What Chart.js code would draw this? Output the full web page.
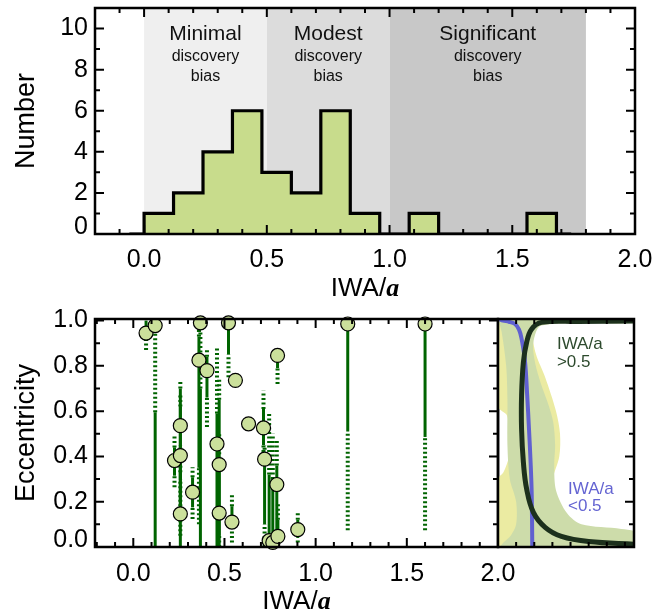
<!DOCTYPE html>
<html>
<head>
<meta charset="utf-8">
<title>Eccentricity vs IWA/a</title>
<script src="https://cdn.jsdelivr.net/npm/chart.js@4.4.1/dist/chart.umd.min.js"></script>
<style>
  html, body { margin: 0; padding: 0; background: #fff; }
  #wrap { position: relative; width: 667px; height: 612px; }
  #wrap canvas { position: absolute; left: 0; top: 0; }
</style>
</head>
<body>
<div id="wrap">
  <canvas id="histChart" width="667" height="612"></canvas>
  <canvas id="eccChart" width="667" height="612"></canvas>
  <canvas id="sideChart" width="667" height="612"></canvas>
</div>
<script>
/* globals Chart:false */

// ---- top panel: histogram of IWA/a ----
const binLefts = [0.00, 0.12, 0.24, 0.36, 0.48, 0.60, 0.72, 0.84, 0.96, 1.08, 1.20, 1.32, 1.44, 1.56];
const binCounts = [1, 2, 4, 6, 3, 2, 6, 1, 0, 1, 0, 0, 0, 1];
const binWidth = 0.12;

const zoneEdges = [0.0, 0.5, 1.0, 1.8];
const zoneNames = ["Minimal", "Modest", "Significant"];
const zoneSubtitle = ["discovery", "bias"];

const histXTicks = [0.0, 0.5, 1.0, 1.5, 2.0];
const histYTicks = [0, 2, 4, 6, 8, 10];

// ---- bottom panel: eccentricity vs IWA/a ----
const planetIWA = [0.070, 0.120, 0.226, 0.258, 0.258, 0.258, 0.325, 0.368, 0.360, 0.404, 0.459, 0.471, 0.471, 0.522,
    0.560, 0.541, 0.632, 0.714, 0.720, 0.745, 0.765, 0.787, 0.791, 0.793, 0.902, 1.176, 1.600];
const planetEcc = [0.945, 0.978, 0.382, 0.404, 0.536, 0.146, 0.242, 0.990, 0.825, 0.779, 0.455, 0.364, 0.150, 0.990,
    0.736, 0.110, 0.544, 0.526, 0.388, 0.028, 0.020, 0.276, 0.846, 0.047, 0.077, 0.985, 0.985];
// 68% (solid) and 95% (dotted) intervals
const eccLo68 = [0.93, 0.00, 0.315, 0.18, 0.30, 0.00, 0.175, 0.00, 0.35, 0.66, 0.00, 0.05, 0.00, 0.85,
    0.72, 0.08, 0.544, 0.45, 0.10, 0.00, 0.00, 0.07, 0.79, 0.00, 0.04, 0.51, 0.486];
const eccHi68 = [1.00, 0.595, 0.44, 0.62, 0.70, 0.33, 0.308, 0.70, 0.93, 0.84, 0.59, 0.65, 0.35, 1.00,
    0.75, 0.18, 0.544, 0.61, 0.37, 0.32, 0.30, 0.36, 0.86, 0.12, 0.12, 1.00, 1.00];
const eccLo95 = [0.87, 0.00, 0.264, 0.05, 0.12, 0.00, 0.124, 0.00, 0.10, 0.53, 0.00, 0.00, 0.00, 0.75,
    0.72, 0.02, 0.544, 0.40, 0.00, 0.00, 0.00, 0.00, 0.72, 0.00, 0.02, 0.074, 0.074];
const eccHi95 = [1.00, 1.00, 0.492, 0.68, 0.73, 0.45, 0.352, 1.00, 0.97, 0.88, 0.88, 0.74, 0.50, 1.00,
    0.75, 0.24, 0.544, 0.69, 0.45, 0.59, 0.50, 0.47, 0.87, 0.20, 0.155, 1.00, 1.00];

const eccXTicks = [0.0, 0.5, 1.0, 1.5, 2.0];
const eccYTicks = [0.0, 0.2, 0.4, 0.6, 0.8, 1.0];

// ---- side panel: eccentricity distributions ----
// IWA/a < 0.5 (blue curve, yellow band)
const innerCurveDens = [0.005, 0.028, 0.060, 0.094, 0.116, 0.130, 0.149, 0.161, 0.171, 0.180, 0.186, 0.189];
const innerCurveEcc = [1.007, 1.000, 0.995, 0.985, 0.960, 0.920, 0.820, 0.670, 0.520, 0.370, 0.230, 0.000];
const innerBandDens = [0.00, 0.00, 0.05, 0.06, 0.06, 0.03, 0.00, 0.00,
    0.22, 0.26, 0.28, 0.30, 0.338, 0.342, 0.32, 0.26, 0.21, 0.19, 0.22];
const innerBandEcc = [1.007, 0.62, 0.58, 0.50, 0.40, 0.33, 0.30, 0.00,
    0.00, 0.10, 0.20, 0.30, 0.40, 0.50, 0.60, 0.75, 0.85, 0.95, 1.007];
// IWA/a > 0.5 (dark green curve, green band)
const outerCurveDens = [0.76, 0.44, 0.24, 0.186, 0.158, 0.140, 0.130, 0.130, 0.140, 0.158, 0.195, 0.26, 0.35, 0.50, 0.76];
const outerCurveEcc = [0.998, 0.996, 0.992, 0.963, 0.904, 0.816, 0.669, 0.520, 0.374, 0.256, 0.153, 0.087, 0.047, 0.024, 0.012];
const outerBandDens = [0.00, 0.02, 0.045, 0.052, 0.052, 0.065, 0.10, 0.10, 0.07, 0.03, 0.015,
    0.76, 0.76, 0.68, 0.46, 0.38, 0.32, 0.31, 0.315, 0.305, 0.28, 0.24, 0.204, 0.195, 0.24, 0.76, 0.76];
const outerBandEcc = [1.007, 0.95, 0.80, 0.65, 0.45, 0.30, 0.20, 0.10, 0.05, 0.02, 0.00,
    0.00, 0.065, 0.08, 0.10, 0.15, 0.25, 0.36, 0.45, 0.55, 0.624, 0.713, 0.816, 0.904, 0.978, 0.99, 1.007];

const toPoints = (xs, ys) => xs.map((v, i) => ({ x: v, y: ys[i] }));

Chart.defaults.font.family = "'Liberation Sans', Arial, sans-serif";
Chart.defaults.color = "#000";

// lift the bottom-most y label a little, like the original plot
const liftFirst = (fmt) => (v, i) => (i === 0 ? [fmt(v), ""] : fmt(v));
const tickFont = (c) => ({ size: 25, lineHeight: c.index === 0 ? 0.56 : 1.2 });

function fixedSize(prop, value) {
    return (scale) => {
        scale[prop] = value;
        scale.paddingTop = 0;
        scale.paddingBottom = 0;
        scale.paddingLeft = 0;
        scale.paddingRight = 0;
    };
}

function drawXTitle(chart) {
    const { ctx, chartArea: a } = chart;
    const f1 = "26px 'Liberation Sans'";
    const f2 = "bold italic 26px 'Liberation Serif'";
    ctx.font = f1;
    const w1 = ctx.measureText("IWA/").width;
    ctx.font = f2;
    const w2 = ctx.measureText("a").width;
    const x0 = (a.left + a.right) / 2 - (w1 + w2) / 2;
    const base = a.bottom + 62;
    ctx.fillStyle = "#000";
    ctx.textAlign = "left";
    ctx.textBaseline = "alphabetic";
    ctx.font = f1;
    ctx.fillText("IWA/", x0, base);
    ctx.font = f2;
    ctx.fillText("a", x0 + w1, base);
}

// box frame with inward major/minor ticks
const framePlugin = {
    id: "frame",
    afterDatasetsDraw(chart, args, opts) {
        const { ctx, chartArea: a } = chart;
        ctx.save();
        ctx.strokeStyle = "#000";
        ctx.lineWidth = 2;
        (opts.ticks || []).forEach((t) => {
            const s = chart.scales[t.axis];
            const first = Math.ceil(s.min / t.step - 1e-6);
            const last = Math.floor(s.max / t.step + 1e-6);
            ctx.beginPath();
            for (let i = first; i <= last; i++) {
                const v = i * t.step;
                const major = t.major && Math.abs(v / t.major - Math.round(v / t.major)) < 1e-6;
                const len = major ? 9 : 5;
                const p = s.getPixelForValue(v);
                t.sides.forEach((side) => {
                    if (side === "bottom") { ctx.moveTo(p, a.bottom); ctx.lineTo(p, a.bottom - len); }
                    if (side === "top") { ctx.moveTo(p, a.top); ctx.lineTo(p, a.top + len); }
                    if (side === "left") { ctx.moveTo(a.left, p); ctx.lineTo(a.left + len, p); }
                    if (side === "right") { ctx.moveTo(a.right, p); ctx.lineTo(a.right - len, p); }
                });
            }
            ctx.stroke();
        });
        ctx.lineWidth = 2.5;
        ctx.strokeRect(a.left, a.top, a.right - a.left, a.bottom - a.top);
        if (opts.xTitle) drawXTitle(chart);
        ctx.restore();
    },
};

// shaded discovery-bias zones behind the histogram
const zonePlugin = {
    id: "zones",
    beforeDatasetsDraw(chart) {
        const { ctx, chartArea: a, scales: { x } } = chart;
        const shades = ["#efefef", "#dcdcdc", "#c8c8c8"];
        ctx.save();
        zoneNames.forEach((name, i) => {
            const x0 = x.getPixelForValue(zoneEdges[i]);
            const x1 = x.getPixelForValue(zoneEdges[i + 1]);
            ctx.fillStyle = shades[i];
            ctx.fillRect(x0, a.top, x1 - x0, a.bottom - a.top);
            const cx = (x0 + x1) / 2;
            ctx.fillStyle = "#111";
            ctx.textAlign = "center";
            ctx.textBaseline = "alphabetic";
            ctx.font = "21px 'Liberation Sans'";
            ctx.fillText(name, cx, a.top + 32);
            ctx.font = "16px 'Liberation Sans'";
            ctx.fillText(zoneSubtitle[0], cx, a.top + 53);
            ctx.fillText(zoneSubtitle[1], cx, a.top + 73);
        });
        ctx.restore();
    },
};

// solid 68% and dotted 95% eccentricity intervals
const errorBarPlugin = {
    id: "errorBars",
    beforeDatasetsDraw(chart) {
        const { ctx, scales: { x, y } } = chart;
        const seg = (px, lo, hi) => {
            if (hi <= lo) return;
            ctx.beginPath();
            ctx.moveTo(px, y.getPixelForValue(lo));
            ctx.lineTo(px, y.getPixelForValue(hi));
            ctx.stroke();
        };
        ctx.save();
        ctx.strokeStyle = "#006400";
        ctx.lineCap = "butt";
        planetIWA.forEach((iwa, i) => {
            const px = x.getPixelForValue(iwa);
            ctx.setLineDash([2, 2.5]);
            ctx.lineWidth = 4;
            seg(px, eccLo95[i], eccLo68[i]);
            seg(px, eccHi68[i], eccHi95[i]);
            ctx.setLineDash([]);
            ctx.lineWidth = 3;
            seg(px, eccLo68[i], eccHi68[i]);
        });
        ctx.restore();
    },
};

// labels in the side panel
const sideLabelPlugin = {
    id: "sideLabels",
    afterDatasetsDraw(chart) {
        const { ctx, scales: { x, y } } = chart;
        ctx.save();
        ctx.font = "17px 'Liberation Sans'";
        ctx.textAlign = "left";
        ctx.textBaseline = "middle";
        ctx.fillStyle = "#2d4a2d";
        ctx.fillText("IWA/a", x.getPixelForValue(0.325), y.getPixelForValue(0.895));
        ctx.fillText(">0.5", x.getPixelForValue(0.325), y.getPixelForValue(0.815));
        ctx.fillStyle = "#6464d2";
        ctx.fillText("IWA/a", x.getPixelForValue(0.386), y.getPixelForValue(0.255));
        ctx.fillText("<0.5", x.getPixelForValue(0.386), y.getPixelForValue(0.18));
        ctx.restore();
    },
};

const common = {
    responsive: false,
    animation: false,
    events: [],
    plugins: { legend: { display: false }, tooltip: { enabled: false } },
};

// Histogram
const histPoints = [{ x: binLefts[0] - binWidth / 2, y: 0 }];
binLefts.forEach((l, i) => histPoints.push({ x: l, y: binCounts[i] }));
const lastEdge = binLefts[binLefts.length - 1] + binWidth;
histPoints.push({ x: lastEdge, y: 0 }, { x: lastEdge + binWidth / 2, y: 0 });

new Chart(document.getElementById("histChart"), {
    type: "scatter",
    data: {
        datasets: [{
            data: histPoints,
            showLine: true,
            stepped: "before",
            fill: "origin",
            backgroundColor: "#c8dc8c",
            borderColor: "#000",
            borderWidth: 3.2,
            pointRadius: 0,
        }],
    },
    options: {
        ...common,
        layout: { padding: { left: 0, top: 8, right: 32, bottom: 318 } },
        scales: {
            x: {
                type: "linear", min: -0.2, max: 2.0,
                afterBuildTicks: (s) => { s.ticks = histXTicks.map((v) => ({ value: v })); },
                afterFit: fixedSize("height", 60),
                grid: { display: false, drawTicks: false },
                border: { display: false },
                ticks: { padding: 11, font: { size: 25 }, callback: (v) => v.toFixed(1) },
            },
            y: {
                min: 0, max: 11,
                afterBuildTicks: (s) => { s.ticks = histYTicks.map((v) => ({ value: v })); },
                afterFit: fixedSize("width", 95),
                grid: { display: false, drawTicks: false },
                border: { display: false },
                ticks: { padding: 7, font: tickFont, callback: liftFirst((v) => String(v)) },
                title: { display: true, text: "Number", font: { size: 27 }, padding: { top: 10, bottom: 0 } },
            },
        },
        plugins: {
            ...common.plugins,
            frame: {
                xTitle: true,
                ticks: [
                    { axis: "x", step: 0.1, major: 0.5, sides: ["top", "bottom"] },
                    { axis: "y", step: 1, major: 2, sides: ["left", "right"] },
                ],
            },
        },
    },
    plugins: [zonePlugin, framePlugin],
});

// Eccentricity vs IWA/a
new Chart(document.getElementById("eccChart"), {
    type: "scatter",
    data: {
        datasets: [{
            data: toPoints(planetIWA, planetEcc),
            pointRadius: 7,
            pointBackgroundColor: "#cbe09b",
            pointBorderColor: "#000",
            pointBorderWidth: 1.2,
            clip: false,
        }],
    },
    options: {
        ...common,
        layout: { padding: { left: 0, top: 319, right: 169, bottom: 25 } },
        scales: {
            x: {
                type: "linear", min: -0.21, max: 2.0,
                afterBuildTicks: (s) => { s.ticks = eccXTicks.map((v) => ({ value: v })); },
                afterFit: fixedSize("height", 40),
                grid: { display: false, drawTicks: false },
                border: { display: false },
                ticks: { padding: 12, font: { size: 25 }, callback: (v) => v.toFixed(1) },
            },
            y: {
                min: 0, max: 1.007,
                afterBuildTicks: (s) => { s.ticks = eccYTicks.map((v) => ({ value: v })); },
                afterFit: fixedSize("width", 95),
                grid: { display: false, drawTicks: false },
                border: { display: false },
                ticks: { padding: 7, font: tickFont, callback: liftFirst((v) => v.toFixed(1)) },
                title: { display: true, text: "Eccentricity", font: { size: 27 }, padding: { top: 10, bottom: 0 } },
            },
        },
        plugins: {
            ...common.plugins,
            frame: {
                xTitle: true,
                ticks: [
                    { axis: "x", step: 0.1, major: 0.5, sides: ["top", "bottom"] },
                    { axis: "y", step: 0.1, major: 0.2, sides: ["left", "right"] },
                ],
            },
        },
    },
    plugins: [errorBarPlugin, framePlugin],
});

// Side panel: eccentricity distributions (lower order is drawn on top)
new Chart(document.getElementById("sideChart"), {
    type: "scatter",
    data: {
        datasets: [
            {
                data: toPoints(innerBandDens, innerBandEcc),
                order: 4, showLine: true, fill: "shape", tension: 0.3,
                backgroundColor: "#ebeba2", borderWidth: 0, pointRadius: 0,
            },
            {
                data: toPoints(outerBandDens, outerBandEcc),
                order: 3, showLine: true, fill: "shape", tension: 0.3,
                backgroundColor: "#cddcaa", borderWidth: 0, pointRadius: 0,
            },
            {
                data: toPoints(innerCurveDens, innerCurveEcc),
                order: 2, showLine: true, tension: 0.35,
                borderColor: "#6060d0", borderWidth: 4, pointRadius: 0,
            },
            {
                data: toPoints(outerCurveDens, outerCurveEcc),
                order: 1, showLine: true, tension: 0.4,
                borderColor: "#1c301c", borderWidth: 5, pointRadius: 0,
            },
        ],
    },
    options: {
        ...common,
        layout: { padding: { left: 498, top: 319, right: 33, bottom: 65 } },
        scales: {
            x: { type: "linear", min: 0, max: 0.75, display: false },
            y: { min: 0, max: 1.007, display: false },
        },
        plugins: {
            ...common.plugins,
            frame: {
                ticks: [
                    { axis: "x", step: 0.1, major: null, sides: ["top", "bottom"] },
                    { axis: "y", step: 0.1, major: 0.2, sides: ["right"] },
                ],
            },
        },
    },
    plugins: [sideLabelPlugin, framePlugin],
});
</script>
</body>
</html>
